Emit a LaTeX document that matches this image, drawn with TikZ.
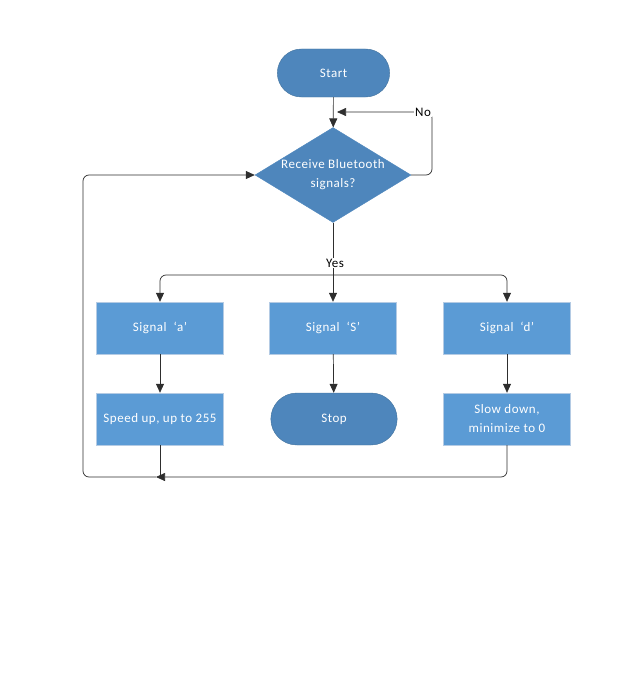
\documentclass[tikz,border=0pt]{standalone}
\usepackage{fontspec}
\setmainfont{Carlito}
\usetikzlibrary{arrows.meta,shapes.geometric,shapes.misc,calc}

\definecolor{termblue}{HTML}{4E86BC}
\definecolor{termline}{HTML}{41719C}
\definecolor{boxblue}{HTML}{5B9BD5}
\definecolor{boxline}{HTML}{B4CBE4}
\definecolor{flowline}{HTML}{2E2E2E}

\newcommand{\chartfont}{\fontsize{13}{19}\selectfont\addfontfeatures{LetterSpace=4}}

\tikzset{
  terminal/.style={rounded rectangle, fill=termblue, draw=termline, text=white,
    minimum width=119pt, minimum height=48pt, font=\chartfont},
  procbox/.style={rectangle, fill=boxblue, draw=boxline, text=white, align=center,
    minimum width=127pt, minimum height=52pt, inner sep=2pt, font=\chartfont},
  decision/.style={diamond, fill=termblue, draw=termblue, text=white, align=center,
    aspect=1.64, minimum width=156pt, minimum height=95pt, inner sep=0pt,
    font=\chartfont},
  flow/.style={draw=flowline, line width=0.7pt, -{Triangle[length=9pt,width=8pt]}},
  plain/.style={draw=flowline, line width=0.7pt},
  lbl/.style={fill=white, inner sep=1pt, font=\chartfont}
}

\begin{document}
\begin{tikzpicture}[x=1pt, y=-1pt]
  % Canvas
  \useasboundingbox (0,0) rectangle (642,677);

  % Top of the chart
  \node[terminal] (start) at (333.5,73) {Start};
  \node[decision] (recv) at (333,175) {Receive Bluetooth\\signals?};

  % Signal boxes
  \node[procbox] (siga) at (160,328) {Signal~~‘a’};
  \node[procbox] (sigs) at (333,328) {Signal~~‘S’};
  \node[procbox] (sigd) at (507,328) {Signal~~‘d’};

  % Actions
  \node[procbox] (speedup) at (160,419) {Speed up, up to 255};
  \node[terminal, minimum width=133pt, minimum height=52pt] (stop) at (334,419) {Stop};
  \node[procbox] (slowdown) at (507,419) {Slow down,\\minimize to 0};

  % Helper points
  \coordinate (bus) at (333,275);
  \coordinate (noend) at (337,112);
  \coordinate (ret) at (156,477);
  \coordinate (lft) at (83,175);

  % Start to decision
  \draw[flow] (start) -- (recv);

  % No loop
  \draw[flow, rounded corners=6pt] (recv.east) -- (432,175) |- (noend);
  \node[lbl] (no) at (423,112) {No};

  % Yes branches
  \draw[plain] (recv.south) -- (bus);
  \node[lbl] (yes) at (335,263) {Yes};
  \draw[flow, rounded corners=6pt] (bus) -| (siga.north);
  \draw[flow, rounded corners=6pt] (bus) -| (sigd.north);
  \draw[flow] (bus) -- (sigs.north);

  % Down to actions
  \draw[flow] (siga) -- (speedup);
  \draw[flow] (sigs) -- (stop);
  \draw[flow] (sigd) -- (slowdown);

  % Return to decision
  \draw[flow, rounded corners=6pt] (slowdown.south) |- (ret);
  \draw[plain] (speedup.south) -- (speedup.south |- ret);
  \draw[flow, rounded corners=6pt] (ret) -| (lft) -- (recv.west);
\end{tikzpicture}
\end{document}
